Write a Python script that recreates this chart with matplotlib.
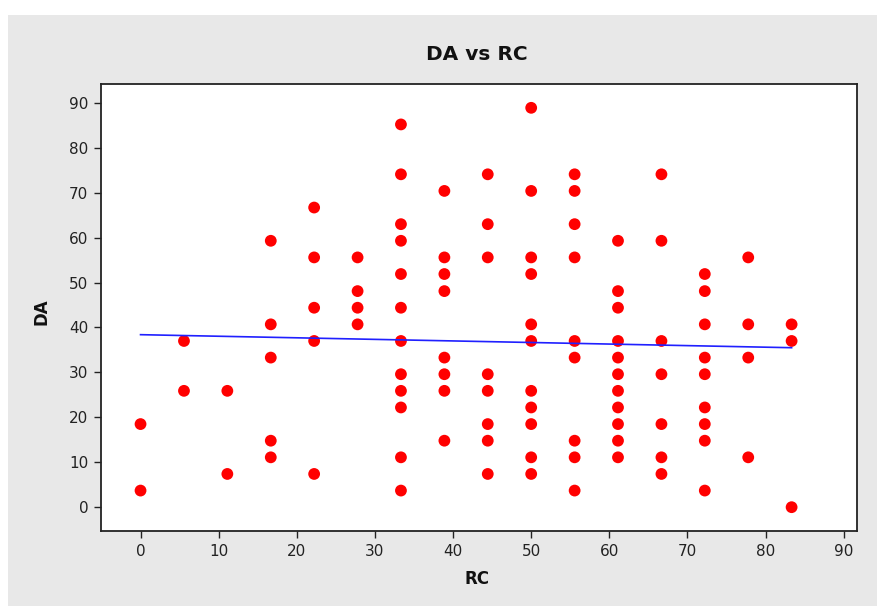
import numpy as np
import matplotlib
matplotlib.use("Agg")
import matplotlib.pyplot as plt
from matplotlib.patches import Rectangle

# RC levels (percent) and the DA values observed at each level
rc_levels = [0.0, 5.56, 11.11, 16.67, 22.22, 27.78, 33.33, 38.89, 44.44,
             50.0, 55.56, 61.11, 66.67, 72.22, 77.78, 83.33]
da_rc_0 = [18.5, 3.7]
da_rc_5 = [37.0, 25.9]
da_rc_11 = [25.9, 7.4]
da_rc_17 = [59.3, 40.7, 33.3, 14.8, 11.1]
da_rc_22 = [66.7, 55.6, 44.4, 37.0, 7.4]
da_rc_28 = [55.6, 48.1, 44.4, 40.7]
da_rc_33 = [85.2, 74.1, 63.0, 59.3, 51.9, 44.4, 37.0, 29.6, 25.9, 22.2, 11.1, 3.7]
da_rc_39 = [70.4, 55.6, 51.9, 48.1, 33.3, 29.6, 25.9, 14.8]
da_rc_44 = [74.1, 63.0, 55.6, 29.6, 25.9, 18.5, 14.8, 7.4]
da_rc_50 = [88.9, 70.4, 55.6, 51.9, 40.7, 37.0, 25.9, 22.2, 18.5, 11.1, 7.4]
da_rc_56 = [74.1, 70.4, 63.0, 55.6, 37.0, 33.3, 14.8, 11.1, 3.7]
da_rc_61 = [59.3, 48.1, 44.4, 37.0, 33.3, 29.6, 25.9, 22.2, 18.5, 14.8, 11.1]
da_rc_67 = [74.1, 59.3, 37.0, 29.6, 18.5, 11.1, 7.4]
da_rc_72 = [51.9, 48.1, 40.7, 33.3, 29.6, 22.2, 18.5, 14.8, 3.7]
da_rc_78 = [55.6, 40.7, 33.3, 11.1]
da_rc_83 = [40.7, 37.0, 0.0]

da_groups = [da_rc_0, da_rc_5, da_rc_11, da_rc_17, da_rc_22, da_rc_28, da_rc_33,
             da_rc_39, da_rc_44, da_rc_50, da_rc_56, da_rc_61, da_rc_67, da_rc_72,
             da_rc_78, da_rc_83]

# fitted regression line: DA at the lowest and highest RC level
fit_rc = [0.0, 83.33]
fit_da = [38.4, 35.5]

x_ticks = list(range(0, 91, 10))
y_ticks = list(range(0, 91, 10))

rc = np.concatenate([[x] * len(g) for x, g in zip(rc_levels, da_groups)])
da = np.concatenate([np.asarray(g, dtype=float) for g in da_groups])

W, H = 878, 606
fig = plt.figure(figsize=(W / 100, H / 100), dpi=100, facecolor="white")

# grey panel behind the plot
fig.patches.append(Rectangle((8 / W, 0), 1 - 8 / W, 1 - 15 / H,
                             transform=fig.transFigure, facecolor="#e8e8e8",
                             edgecolor="none", zorder=-10))

ax = fig.add_axes([101 / W, 1 - 531 / H, (857 - 101) / W, (531 - 84) / H])
ax.set_facecolor("white")

ax.scatter(rc, da, s=72, color="#ff0000", edgecolors="none", zorder=3)
ax.plot(fit_rc, fit_da, color="#2020ff", lw=1.2, zorder=4)

ax.set_xlim(-5.06, 91.7)
ax.set_ylim(-5.3, 94.2)
ax.set_xticks(x_ticks)
ax.set_yticks(y_ticks)

font = "DejaVu Sans"
ax.tick_params(direction="out", length=5, width=1, color="#222222",
               labelsize=11, labelcolor="#222222", pad=4)
for lab in ax.get_xticklabels() + ax.get_yticklabels():
    lab.set_fontfamily(font)
for side in ("left", "bottom", "right", "top"):
    ax.spines[side].set_color("#222222")
    ax.spines[side].set_linewidth(1.3)

fig.text(477 / W, 1 - 55 / H, "DA vs RC", ha="center", va="center",
         fontsize=14.5, fontweight="bold", family=font, color="#111111")
fig.text(477 / W, 1 - 579 / H, "RC", ha="center", va="center",
         fontsize=12, fontweight="bold", family=font, color="#111111")
fig.text(42 / W, 1 - 312 / H, "DA", ha="center", va="center", rotation=90,
         fontsize=12, fontweight="bold", family=font, color="#111111")

fig.savefig("out.png", dpi=100, facecolor=fig.get_facecolor())
